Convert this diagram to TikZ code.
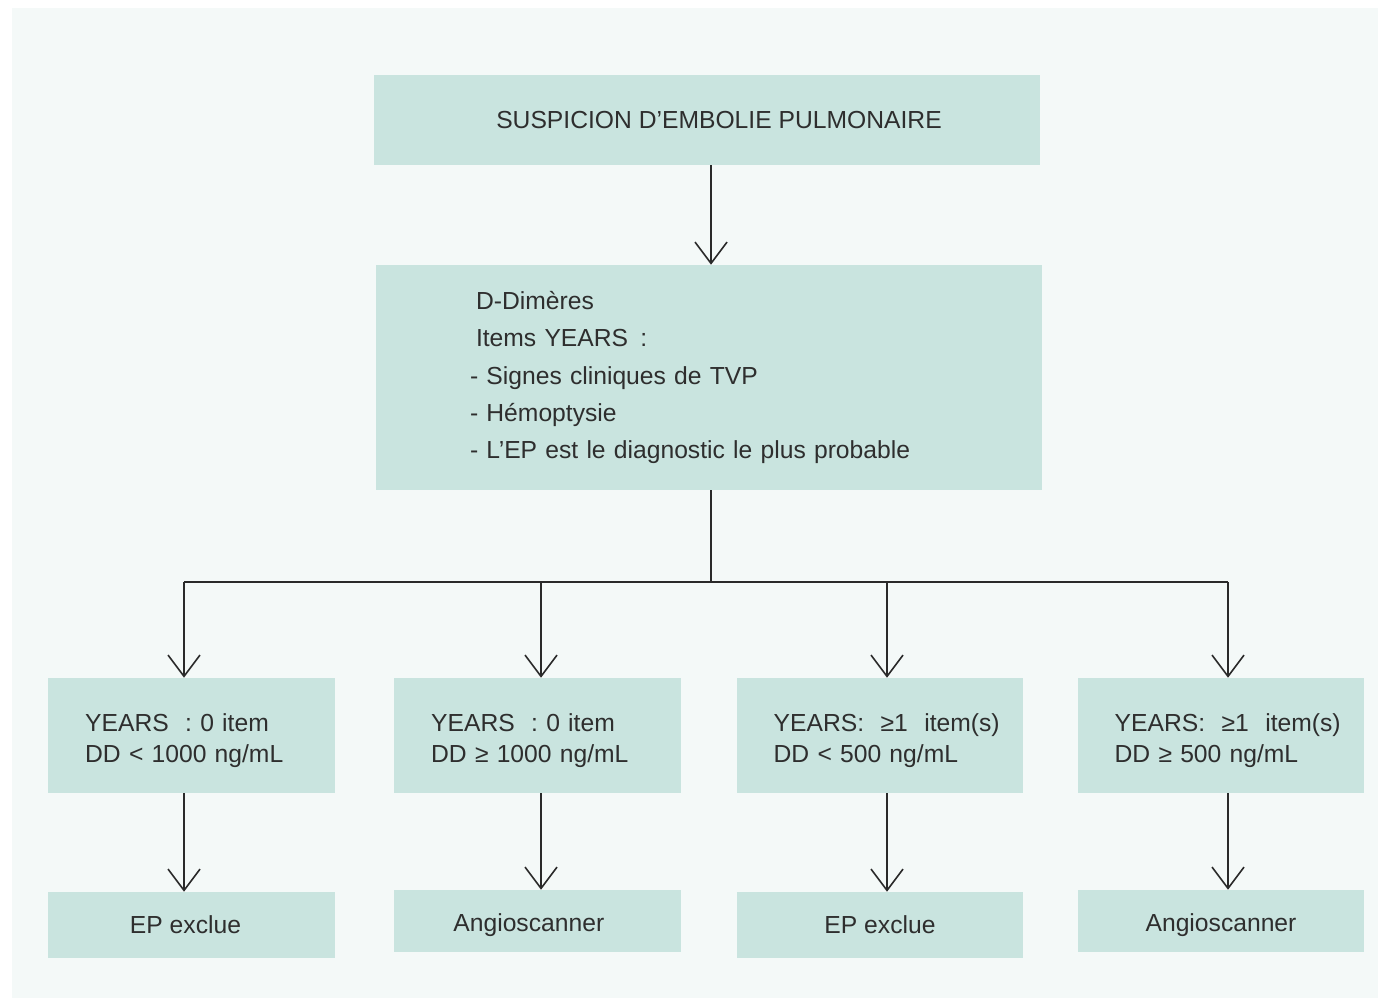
\documentclass[tikz,border=0pt]{standalone}
\usepackage{fontspec}
\setmainfont{Liberation Sans}
\usetikzlibrary{arrows.meta}
\definecolor{panel}{HTML}{F4F9F8}
\definecolor{boxfill}{HTML}{C9E4DF}
\definecolor{txt}{HTML}{2E2E2E}
\definecolor{ln}{HTML}{2A2A2A}
\tikzset{
  box/.style={rectangle, fill=boxfill, draw=none, text=txt, inner sep=0pt,
    font=\fontsize{18.5}{23.5}\selectfont},
  topbox/.style={box, minimum width=499.5pt, minimum height=67.5pt},
  midbox/.style={box, minimum width=499.5pt, minimum height=168.75pt,
    text width=358.5pt, align=left, font=\fontsize{18.5}{28}\selectfont},
  critbox/.style={box, minimum width=215pt, minimum height=86.25pt,
    text width=159.5pt, align=left},
  endbox/.style={box, minimum width=215pt},
  conn/.style={draw=ln, line width=1.2pt},
  arr/.style={conn, -{Straight Barb[length=16pt,width=24pt,line width=1.2pt]}}
}
\newcommand{\critstrut}{\rule{0pt}{21pt}}
\newcommand{\resstrut}{\rule{0pt}{19pt}}
\begin{document}
\begin{tikzpicture}[x=0.75pt,y=-0.75pt]
\fill[white] (0,0) rectangle (1384,1003);
\fill[panel] (12,8) rectangle (1378,998);
\useasboundingbox (0,0) rectangle (1384,1003);

\node[topbox] (top) at (707,120) {\hspace*{18pt}SUSPICION D'EMBOLIE PULMONAIRE};
\node[midbox] (mid) at (709,377.5) {\hspace*{4.5pt}D-Dimères\\ \hspace*{4.5pt}Items YEARS\hspace{0.5em}:\\ - Signes cliniques de TVP\\ - Hémoptysie\\ - L'EP est le diagnostic le plus probable};

\node[critbox] (b1) at (191.5,735.5) {\critstrut YEARS~ : 0 item\\ DD < 1000 ng/mL};
\node[critbox] (b2) at (537.5,735.5) {\critstrut YEARS~ : 0 item\\ DD ≥ 1000 ng/mL};
\node[critbox] (b3) at (880,735.5) {\critstrut YEARS:~ ≥1~ item(s)\\ DD < 500 ng/mL};
\node[critbox] (b4) at (1221,735.5) {\critstrut YEARS:~ ≥1~ item(s)\\ DD ≥ 500 ng/mL};

\node[endbox, minimum height=49.5pt] (c1) at (191.5,925) {EP exclue\hspace*{9pt}};
\node[endbox, minimum height=46.5pt] (c2) at (537.5,921) {\resstrut Angioscanner\hspace*{13pt}};
\node[endbox, minimum height=49.5pt] (c3) at (880,925) {EP exclue};
\node[endbox, minimum height=46.5pt] (c4) at (1221,921) {\resstrut Angioscanner};

\coordinate (hub) at (711,582);
\coordinate (j1) at (184,582);
\coordinate (j2) at (541,582);
\coordinate (j3) at (887,582);
\coordinate (j4) at (1228,582);

\draw[arr] (top.south -| hub) -- (mid.north -| hub);
\draw[conn] (mid.south -| hub) -- (hub);
\draw[conn] (j1) -- (j4);
\foreach \i in {1,2,3,4} {
  \draw[arr] (j\i) -- (b\i.north -| j\i);
  \draw[arr] (b\i.south -| j\i) -- (c\i.north -| j\i);
}
\end{tikzpicture}
\end{document}
